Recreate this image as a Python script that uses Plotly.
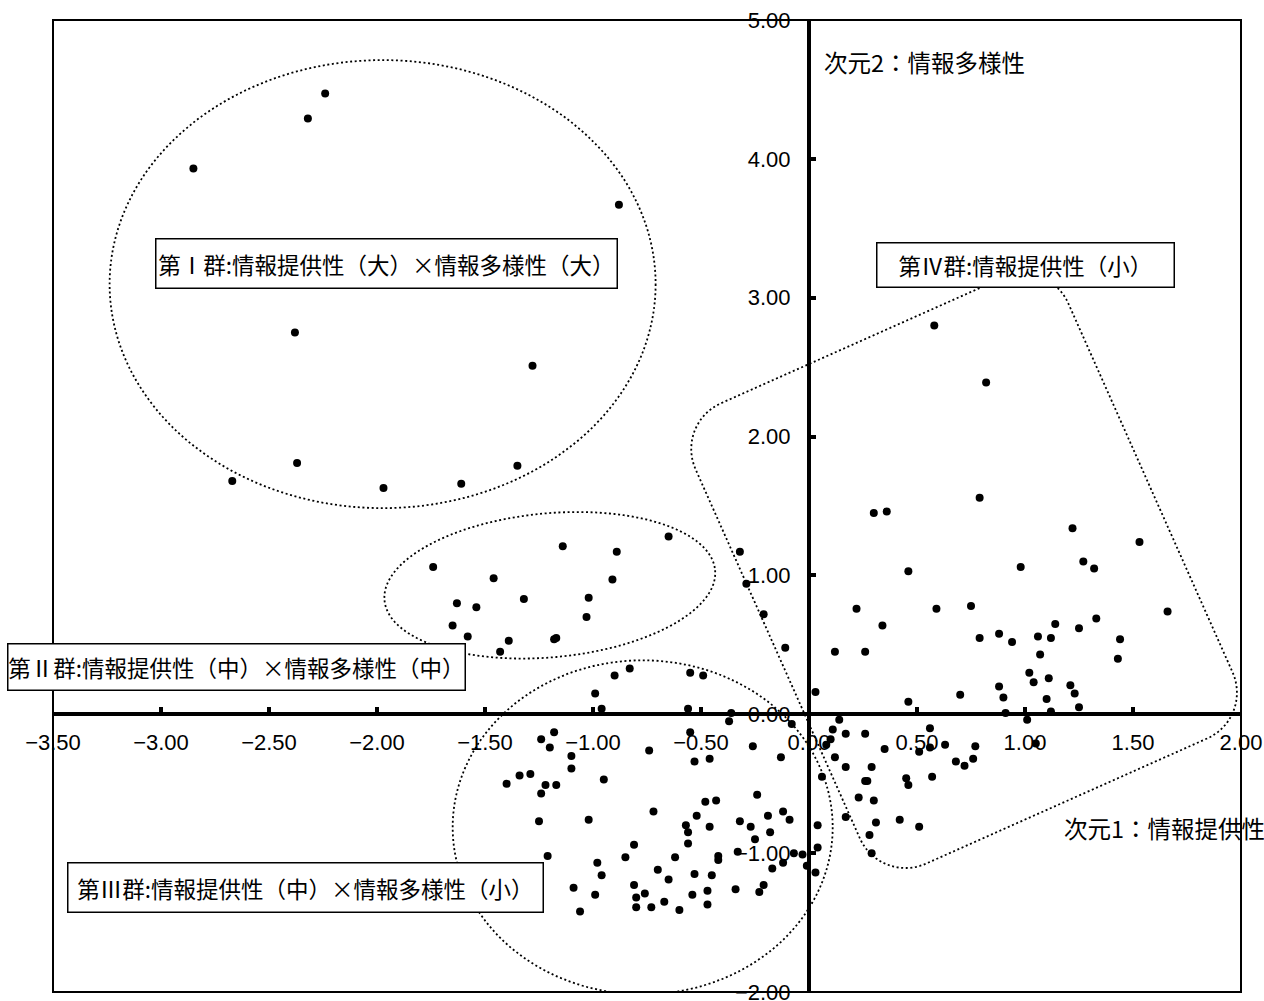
import math
import plotly.graph_objects as go

# ---- coordinates on the two dimensions (次元1 = x, 次元2 = y) ----
g1_x = [-2.85, -2.32, -2.24, -0.88, -2.38, -1.28, -2.67, -2.37, -1.97, -1.61, -1.35]
g1_y = [3.93, 4.29, 4.47, 3.67, 2.75, 2.51, 1.68, 1.81, 1.63, 1.66, 1.79]

g2_x = [-1.74, -1.14, -0.89, -0.65, -1.46, -0.91, -1.63, -1.54, -1.32, -1.02, -1.03,
        -1.65, -1.58, -1.39, -1.43, -1.18, -1.17]
g2_y = [1.06, 1.21, 1.17, 1.28, 0.98, 0.97, 0.80, 0.77, 0.83, 0.84, 0.70,
        0.64, 0.56, 0.53, 0.45, 0.54, 0.55]

g3_x = [-0.83, -0.90, -0.55, -0.49, -0.99, -0.96, -0.56, -0.36, -0.37, -0.08,
        -1.24, -1.18, -1.20, -1.10, -1.10, -0.95, -0.74, -0.55, -0.53, -0.46, -0.26, -0.13,
        -1.40, -1.34, -1.29, -1.24, -1.22, -1.17, -1.25, -1.02, -0.72, -1.21,
        -0.24, -0.48, -0.43, -0.52, -0.57, -0.56, -0.46, -0.56, -0.81, -0.85, -0.62, -0.42, -0.42,
        -0.32, -0.27, -0.25, -0.33, -0.19, -0.18, -0.12, -0.09, -0.17, -0.12, -0.07, -0.03, -0.01,
        -0.98, -0.96, -0.70, -0.65, -0.53, -0.45, -0.81, -1.09, -0.99, -0.80, -0.76, -0.54,
        -0.47, -0.34, -0.23, -0.21,
        -1.06, -0.80, -0.73, -0.67, -0.60, -0.47,
        0.04, 0.04, 0.03]
g3_y = [0.33, 0.28, 0.30, 0.28, 0.15, 0.04, 0.04, 0.01, -0.05, -0.07,
        -0.18, -0.13, -0.24, -0.30, -0.39, -0.47, -0.26, -0.13, -0.34, -0.32, -0.23, -0.31,
        -0.50, -0.44, -0.43, -0.57, -0.51, -0.51, -0.77, -0.76, -0.70, -1.02,
        -0.58, -0.63, -0.62, -0.73, -0.80, -0.85, -0.81, -0.93, -0.94, -1.03, -1.03, -1.02, -1.05,
        -0.77, -0.81, -0.90, -0.99, -0.73, -0.85, -0.70, -0.76, -1.11, -1.07, -1.00, -1.01, -1.09,
        -1.07, -1.16, -1.12, -1.19, -1.15, -1.16, -1.23, -1.25, -1.30, -1.32, -1.29, -1.30,
        -1.27, -1.26, -1.28, -1.23,
        -1.42, -1.39, -1.39, -1.35, -1.41, -1.37,
        -0.80, -0.96, -1.14]

g4_x = [-0.32, -0.29, -0.21, -0.11, 0.03,
        0.58, 0.82, 0.79, 0.30, 0.36, 1.22, 1.53, 1.27, 1.32, 0.98, 0.46, 0.22, 0.59, 0.75,
        1.66, 0.34, 1.33, 1.14, 1.25, 0.79, 0.88, 0.94, 1.06, 1.12, 1.44, 1.07, 1.43, 0.12,
        0.26, 1.02, 1.04, 1.11, 0.88, 0.90, 1.10, 1.21, 1.23, 1.25, 0.46, 0.70, 0.91, 1.12,
        0.14, 0.11, 0.10, 0.08, 0.12, 0.06, 0.17, 0.26, 0.17, 0.35, 0.29, 0.51, 0.56, 0.56,
        0.63, 0.77, 0.68, 0.72, 0.76, 1.05, 0.26, 0.27, 0.45, 0.46, 0.57, 0.23, 0.30, 0.17,
        0.31, 0.42, 0.51, 0.28, 0.29, 1.01]
g4_y = [1.17, 0.94, 0.72, 0.48, 0.16,
        2.80, 2.39, 1.56, 1.45, 1.46, 1.34, 1.24, 1.10, 1.05, 1.06, 1.03, 0.76, 0.76, 0.78,
        0.74, 0.64, 0.69, 0.65, 0.62, 0.55, 0.58, 0.52, 0.56, 0.55, 0.54, 0.43, 0.40, 0.45,
        0.45, 0.30, 0.23, 0.26, 0.20, 0.12, 0.11, 0.21, 0.15, 0.05, 0.09, 0.14, 0.01, 0.02,
        -0.04, -0.11, -0.18, -0.22, -0.31, -0.45, -0.14, -0.14, -0.38, -0.25, -0.38, -0.27, -0.10, -0.24,
        -0.22, -0.23, -0.34, -0.37, -0.32, -0.21, -0.48, -0.48, -0.46, -0.51, -0.45, -0.60, -0.62, -0.74,
        -0.78, -0.76, -0.81, -0.87, -1.00, -0.04]

group_names = ["第Ⅰ群", "第Ⅱ群", "第Ⅲ群", "第Ⅳ群"]
group_labels = [
    "第Ⅰ群:情報提供性（大）×情報多様性（大）",
    "第Ⅱ群:情報提供性（中）×情報多様性（中）",
    "第Ⅲ群:情報提供性（中）×情報多様性（小）",
    "第Ⅳ群:情報提供性（小）",
]
axis_title_x = "次元1：情報提供性"
axis_title_y = "次元2：情報多様性"

x_ticks = [-3.5, -3.0, -2.5, -2.0, -1.5, -1.0, -0.5, 0.0, 0.5, 1.0, 1.5, 2.0]
y_ticks = [-2.0, -1.0, 0.0, 1.0, 2.0, 3.0, 4.0, 5.0]

X_RANGE = [-3.5, 2.0]
Y_RANGE = [-2.0, 5.0]

# ---- page geometry ----
W, H = 1264, 1001
MARGIN = dict(l=53, r=23, t=20, b=9, pad=0)
PLOT_W = W - MARGIN["l"] - MARGIN["r"]
PLOT_H = H - MARGIN["t"] - MARGIN["b"]
PX_X = PLOT_W / (X_RANGE[1] - X_RANGE[0])   # pixels per x unit
PX_Y = PLOT_H / (Y_RANGE[1] - Y_RANGE[0])   # pixels per y unit

JP_FONT = "Noto Sans CJK JP"
NUM_FONT = "Liberation Sans, Arial"


def fmt(v):
    s = f"{abs(v):.2f}"
    return ("\u2212" + s) if v < 0 else s


def local_to_data(cx, cy, pts, ang_deg):
    """Rotate local screen-pixel offsets (u, v; v pointing down) by ang and map to data."""
    a = math.radians(ang_deg)
    out = []
    for u, v in pts:
        dx = u * math.cos(a) + v * math.sin(a)
        dy = -u * math.sin(a) + v * math.cos(a)
        out.append((cx + dx / PX_X, cy - dy / PX_Y))
    return out


def to_path(pts):
    return "M " + " L ".join(f"{x:.4f},{y:.4f}" for x, y in pts) + " Z"


def ellipse_path(cx, cy, a_px, b_px, ang_deg, n=200):
    pts = [(a_px * math.cos(2 * math.pi * i / n), b_px * math.sin(2 * math.pi * i / n))
           for i in range(n)]
    return to_path(local_to_data(cx, cy, pts, ang_deg))


def rounded_rect_path(cx, cy, hu, hv, r, ang_deg, n=24):
    corners = [((hu - r), -(hv - r), -90), ((hu - r), (hv - r), 0),
               (-(hu - r), (hv - r), 90), (-(hu - r), -(hv - r), 180)]
    pts = []
    for ccx, ccy, start in corners:
        for k in range(n + 1):
            t = math.radians(start + 90 * k / n)
            pts.append((ccx + r * math.cos(t), ccy + r * math.sin(t)))
    return to_path(local_to_data(cx, cy, pts, ang_deg))


fig = go.Figure()

for name, xs, ys in zip(group_names, [g1_x, g2_x, g3_x, g4_x], [g1_y, g2_y, g3_y, g4_y]):
    fig.add_trace(go.Scatter(
        x=xs, y=ys, mode="markers", name=name,
        marker=dict(size=8, color="black", line=dict(width=0)),
        showlegend=False, cliponaxis=False,
    ))

dotted = dict(color="black", width=1.8, dash="2px,2.6px")
shapes = [
    # 第Ⅰ群
    dict(type="circle", xref="x", yref="y",
         x0=-1.974 - 273 / PX_X, x1=-1.974 + 273 / PX_X,
         y0=3.098 - 224 / PX_Y, y1=3.098 + 224 / PX_Y, line=dotted),
    # 第Ⅱ群
    dict(type="path", xref="x", yref="y", path=ellipse_path(-1.200, 0.929, 166, 72, 5.2), line=dotted),
    # 第Ⅲ群
    dict(type="circle", xref="x", yref="y",
         x0=-0.770 - 190 / PX_X, x1=-0.770 + 190 / PX_X,
         y0=-0.814 - 167 / PX_Y, y1=-0.814 + 167 / PX_Y, line=dotted),
    # 第Ⅳ群
    dict(type="path", xref="x", yref="y",
         path=rounded_rect_path(0.718, 1.033, 204, 252, 50, 24), line=dotted),
    # plot frame
    dict(type="rect", xref="paper", yref="paper", x0=0, x1=1, y0=0, y1=1,
         line=dict(color="black", width=2), layer="above"),
]

box_specs = [  # (x, y, width, height)
    (-1.957, 3.249, 460, 48),
    (-2.652, 0.339, 456, 45),
    (-2.333, -1.249, 474, 48),
    (1.001, 3.235, 296, 43),
]
annotations = []
for text, (bx, by, bw, bh) in zip(group_labels, box_specs):
    annotations.append(dict(
        x=bx, y=by, xref="x", yref="y", text=text, showarrow=False,
        font=dict(family=JP_FONT, size=22.5, color="black"),
        bgcolor="white", bordercolor="black", borderwidth=1.5, borderpad=0,
        width=bw, height=bh, align="center", valign="middle",
        xanchor="center", yanchor="middle",
    ))
annotations.append(dict(
    x=0.058, y=4.697, xref="x", yref="y", text=axis_title_y, showarrow=False,
    font=dict(family=JP_FONT, size=23.5, color="black"), xanchor="left", yanchor="middle",
))
annotations.append(dict(
    x=1.170, y=-0.821, xref="x", yref="y", text=axis_title_x, showarrow=False,
    font=dict(family=JP_FONT, size=23.5, color="black"), xanchor="left", yanchor="middle",
))

axis_common = dict(
    showgrid=False, zeroline=False, showline=True, linecolor="black", linewidth=4,
    ticks="inside", ticklen=5, tickwidth=4, tickcolor="black",
    tickmode="array", tickfont=dict(family=NUM_FONT, size=22, color="black"),
    ticklabeloverflow="allow",
    anchor="free", automargin=False, fixedrange=True,
)

fig.update_layout(
    width=W, height=H, margin=MARGIN,
    paper_bgcolor="white", plot_bgcolor="white",
    xaxis=dict(range=X_RANGE, tickvals=x_ticks, ticktext=[fmt(v) for v in x_ticks],
               position=(0 - Y_RANGE[0]) / (Y_RANGE[1] - Y_RANGE[0]),
               ticklabelstandoff=7, **axis_common),
    yaxis=dict(range=Y_RANGE, tickvals=y_ticks, ticktext=[fmt(v) for v in y_ticks],
               position=(0 - X_RANGE[0]) / (X_RANGE[1] - X_RANGE[0]),
               ticklabelstandoff=12, **axis_common),
    shapes=shapes, annotations=annotations,
)

fig.write_html("out.html")
